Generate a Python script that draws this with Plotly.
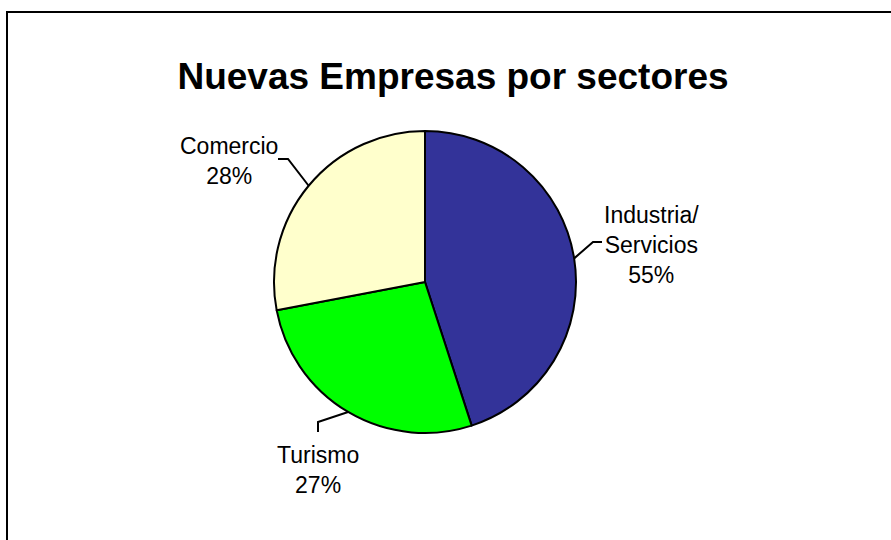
import math
import plotly.graph_objects as go

W, H = 891, 540

# Data
sectors = ["Industria/<br>Servicios", "Turismo", "Comercio"]
values = [45, 27, 28]
label_pct = ["55%", "27%", "28%"]
colors = ["#333399", "#00FF00", "#FFFFCC"]

FONT = "Liberation Sans, Arial, sans-serif"

# Pie geometry (pixels)
cx, cy, r = 425, 282, 151

fig = go.Figure(go.Pie(
    labels=sectors,
    values=values,
    sort=False,
    direction="clockwise",
    rotation=0,
    marker=dict(colors=colors, line=dict(color="black", width=2)),
    textinfo="none",
    hoverinfo="label+percent",
    showlegend=False,
    domain=dict(x=[(cx - r) / W, (cx + r) / W], y=[1 - (cy + r) / H, 1 - (cy - r) / H]),
))

def px(x):
    return x / W

def py(y):
    return 1 - y / H

# label block centres and leader elbows (pixels)
label_pos = [(651, 245), (318, 470), (229, 161)]
elbows = [[(602, 242), (593, 242)], [(318, 432), (318, 422)], [(278, 159), (288, 159)]]

total = sum(values)
cum = 0
shapes = []
annotations = []
for i, v in enumerate(values):
    mid = (cum + v / 2) / total * 2 * math.pi
    cum += v
    ax = cx + r * math.sin(mid)
    ay = cy - r * math.cos(mid)
    pts = elbows[i] + [(ax, ay)]
    path = "M " + " L ".join(f"{px(x)},{py(y)}" for x, y in pts)
    shapes.append(dict(type="path", xref="paper", yref="paper", path=path,
                       line=dict(color="black", width=2)))
    lx, ly = label_pos[i]
    annotations.append(dict(x=px(lx), y=py(ly), xref="paper", yref="paper",
                            text=f"{sectors[i]}<br>{label_pct[i]}", showarrow=False,
                            xanchor="center", yanchor="middle", align="center",
                            font=dict(family=FONT, size=23, color="black")))

# outer frame
shapes.append(dict(type="rect", xref="paper", yref="paper",
                   x0=7 / W, x1=1.05, y0=-0.05, y1=1 - 12 / H,
                   line=dict(color="black", width=2), fillcolor="rgba(0,0,0,0)"))

fig.update_layout(
    width=W, height=H,
    margin=dict(l=0, r=0, t=0, b=0),
    paper_bgcolor="white",
    plot_bgcolor="white",
    title=dict(text="<b>Nuevas Empresas por sectores</b>", x=453 / W, xanchor="center",
               y=1 - 76 / H, yanchor="middle", yref="container",
               font=dict(family=FONT, size=37, color="black")),
    shapes=shapes,
    annotations=annotations,
)

fig.write_html("out.html", config={"displayModeBar": False},
               post_script="document.body.style.margin='0';document.body.style.overflow='hidden';")
